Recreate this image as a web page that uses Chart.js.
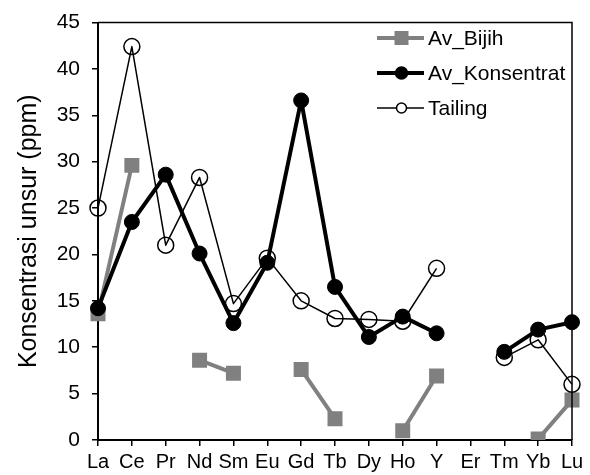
<!DOCTYPE html>
<html>
<head>
<meta charset="utf-8">
<script src="https://cdn.jsdelivr.net/npm/chart.js@4.4.1/dist/chart.umd.min.js"></script>
<style>
html,body{margin:0;padding:0;background:#fff;}
#wrap{width:590px;height:475px;position:relative;}
</style>
</head>
<body>
<div id="wrap"><canvas id="c"></canvas></div>
<script>
const categories = ["La","Ce","Pr","Nd","Sm","Eu","Gd","Tb","Dy","Ho","Y","Er","Tm","Yb","Lu"];
const avBijih = [13.6, 29.6, null, 8.6, 7.2, null, 7.6, 2.3, null, 1.0, 6.9, null, null, 0.1, 4.3];
const avKonsentrat = [14.2, 23.5, 28.6, 20.1, 12.6, 19.1, 36.6, 16.5, 11.1, 13.3, 11.5, null, 9.5, 11.9, 12.7];
const tailing = [25.0, 42.4, 21.0, 28.3, 14.7, 19.6, 15.0, 13.1, 13.0, 12.8, 18.5, null, 8.9, 10.8, 6.0];
const yTicks = [0,5,10,15,20,25,30,35,40,45];

const FONT = "'Liberation Sans', Arial, sans-serif";

const boxPlugin = {
  id: 'box',
  afterDraw(chart) {
    const {ctx, chartArea: a} = chart;
    ctx.save();
    ctx.strokeStyle = '#000';
    ctx.lineWidth = 1.5;
    ctx.beginPath();
    ctx.moveTo(a.left, a.top); ctx.lineTo(a.right, a.top); ctx.lineTo(a.right, a.bottom);
    ctx.stroke();
    // legend
    const items = chart.data.datasets;
    const x0 = 377, x1 = 424, tx = 428;
    const ys = [38, 73, 108];
    ctx.font = "21px " + FONT;
    ctx.textBaseline = 'middle';
    items.forEach((ds, i) => {
      const y = ys[i];
      ctx.strokeStyle = ds.borderColor;
      ctx.lineWidth = ds.borderWidth;
      ctx.beginPath(); ctx.moveTo(x0, y); ctx.lineTo(x1, y); ctx.stroke();
      const cx = (x0 + x1) / 2 + 1;
      ctx.lineWidth = 1.5;
      if (ds.pointStyle === 'rect') {
        ctx.fillStyle = ds.pointBackgroundColor;
        ctx.fillRect(cx - 7, y - 7, 14, 14);
      } else {
        ctx.beginPath(); ctx.arc(cx, y, i === 1 ? 6 : 5, 0, Math.PI * 2);
        ctx.fillStyle = i === 1 ? '#000' : '#fff'; ctx.fill();
        ctx.strokeStyle = '#000'; ctx.stroke();
      }
      ctx.fillStyle = '#000';
      ctx.fillText(ds.label, tx, y + 1);
    });
    ctx.restore();
  }
};

new Chart(document.getElementById('c'), {
  type: 'line',
  data: {
    labels: categories,
    datasets: [
      {label: 'Av_Bijih', data: avBijih, borderColor: '#808080', backgroundColor: '#808080',
       borderWidth: 4, borderJoinStyle: 'round', pointStyle: 'rect', pointRadius: 10.6, pointBackgroundColor: '#808080',
       pointBorderColor: '#808080', pointBorderWidth: 0, spanGaps: false, order: 3},
      {label: 'Av_Konsentrat', data: avKonsentrat, borderColor: '#000', backgroundColor: '#000',
       borderWidth: 4, borderJoinStyle: 'round', pointStyle: 'circle', pointRadius: 7.5, pointBackgroundColor: '#000',
       pointBorderColor: '#000', pointBorderWidth: 1, spanGaps: false, order: 1},
      {label: 'Tailing', data: tailing, borderColor: '#000', backgroundColor: '#fff',
       borderWidth: 1.5, borderJoinStyle: 'round', pointStyle: 'circle', pointRadius: 8, pointBackgroundColor: 'rgba(255,255,255,0)',
       pointBorderColor: '#000', pointBorderWidth: 1.5, spanGaps: false, order: 2}
    ]
  },
  options: {
    responsive: true,
    maintainAspectRatio: false,
    animation: false,
    layout: {padding: {top: 20, right: 18, left: 14, bottom: 0}},
    plugins: {legend: {display: false}, tooltip: {enabled: false}},
    elements: {line: {tension: 0}},
    scales: {
      x: {
        type: 'category',
        offset: false,
        grid: {display: true, drawOnChartArea: false, drawTicks: true, tickLength: 6, color: '#000', lineWidth: 1.5},
        border: {display: true, color: '#000', width: 2},
        ticks: {color: '#000', font: {family: FONT, size: 20}, padding: 4, maxRotation: 0, autoSkip: false},
        afterFit(s) { s.height = 35; }
      },
      y: {
        min: 0, max: 45,
        afterBuildTicks(s) { s.ticks = yTicks.map(v => ({value: v})); },
        grid: {display: true, drawOnChartArea: false, drawTicks: true, tickLength: 6, color: '#000', lineWidth: 1.5},
        border: {display: true, color: '#000', width: 2},
        ticks: {color: '#000', font: {family: FONT, size: 21, lineHeight: 1}, padding: 12},
        title: {display: true, text: 'Konsentrasi unsur (ppm)', color: '#000', font: {family: FONT, size: 25}, padding: {top: 0, bottom: 6}},
        afterFit(s) { s.width = 84; }
      }
    }
  },
  plugins: [boxPlugin]
});
</script>
</body>
</html>
